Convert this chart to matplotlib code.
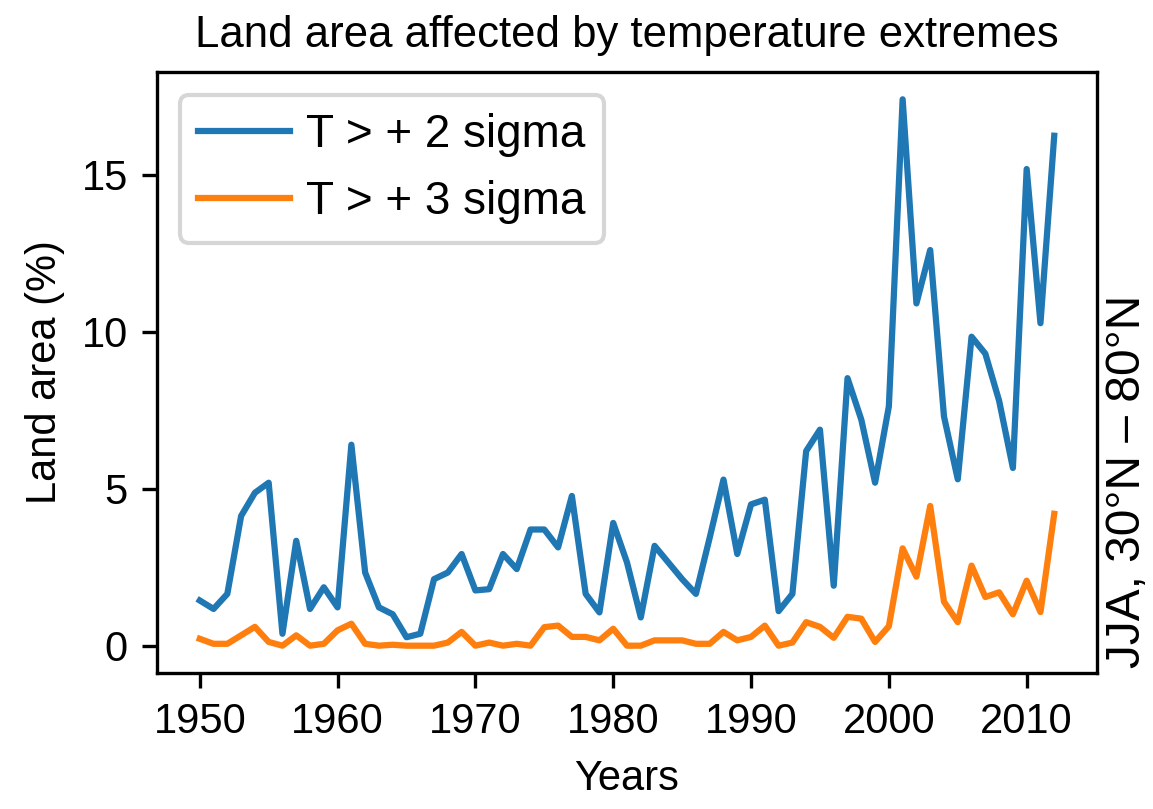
import matplotlib
matplotlib.use("Agg")
import matplotlib.pyplot as plt

# Datos (porcentaje de area terrestre, JJA 30N-80N)
years = list(range(1950, 2013))

sigma2 = [1.44, 1.17, 1.65, 4.13, 4.87, 5.19, 0.38, 3.34, 1.17, 1.86,
          1.22, 6.40, 2.33, 1.22, 1.00, 0.27, 0.38, 2.12, 2.33, 2.92,
          1.76, 1.80, 2.92, 2.44, 3.70, 3.70, 3.13, 4.77, 1.65, 1.06,
          3.91, 2.65, 0.90, 3.18, 2.65, 2.12, 1.65, 3.44, 5.29, 2.92,
          4.50, 4.65, 1.10, 1.65, 6.20, 6.88, 1.91, 8.52, 7.20, 5.19,
          7.62, 17.40, 10.90, 12.60, 7.30, 5.30, 9.84, 9.30, 7.80, 5.66,
          15.18, 10.27, 16.24]

sigma3 = [0.22, 0.06, 0.06, 0.33, 0.60, 0.12, 0.00, 0.33, 0.00, 0.06,
          0.49, 0.70, 0.06, 0.00, 0.03, 0.00, 0.00, 0.00, 0.10, 0.44,
          0.00, 0.10, 0.00, 0.06, 0.00, 0.59, 0.64, 0.28, 0.28, 0.17,
          0.54, 0.00, 0.00, 0.17, 0.17, 0.17, 0.06, 0.06, 0.44, 0.17,
          0.28, 0.64, 0.00, 0.10, 0.75, 0.60, 0.25, 0.92, 0.86, 0.12,
          0.62, 3.10, 2.20, 4.45, 1.40, 0.75, 2.55, 1.55, 1.70, 1.00,
          2.07, 1.07, 4.20]

plt.rcParams['font.family'] = ['Liberation Sans', 'DejaVu Sans']
plt.rcParams['font.size'] = 10

fig = plt.figure(figsize=(1153 / 300, 809 / 300), dpi=300)
ax = fig.add_axes([0.1362, 0.1681, 0.9514 - 0.1362, 0.911 - 0.1681])

ax.plot(years, sigma2, label='T > + 2 sigma')
ax.plot(years, sigma3, label='T > + 3 sigma')

ax.set_xlabel('Years')
ax.set_ylabel('Land area (%)')
ax.set_title('Land area affected by temperature extremes', fontsize=10.5)
ax.legend(loc='upper left', fontsize=11, handletextpad=0.35)

# texto de la region a la derecha
ax.text(1.009, 0.008, 'JJA, 30°N \u2013 80°N', rotation=90, fontsize=11.5,
        transform=ax.transAxes, ha='left', va='bottom')

fig.savefig('out.png', dpi=300)
